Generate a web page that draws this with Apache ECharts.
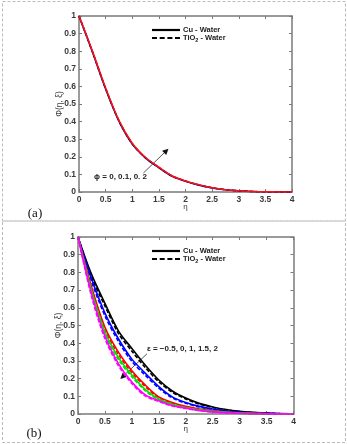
<!DOCTYPE html>
<html><head><meta charset="utf-8">
<script src="https://cdn.jsdelivr.net/npm/echarts@6/dist/echarts.min.js"></script>
<style>html,body{margin:0;padding:0;background:#fff}#c{width:347px;height:444px}</style>
</head><body><div id="c"></div>
<script>
// shared eta grid
const eta = [0,0.25,0.5,0.75,1,1.25,1.5,1.75,2,2.25,2.5,2.75,3,3.25,3.5,3.75,4];
const xTicks = ['0','0.5','1','1.5','2','2.5','3','3.5','4'];
const yTicks = ['0','0.1','0.2','0.3','0.4','0.5','0.6','0.7','0.8','0.9','1'];

// panel (a): phi = 0, 0.1, 0.2 (curves nearly coincide)
const aBlue  = [1,0.797,0.585,0.402,0.272,0.193,0.138,0.089,0.061,0.039,0.023,0.013,0.007,0.003,0.001,0.0003,0];
const aBlack = [1,0.799,0.588,0.404,0.274,0.194,0.139,0.090,0.062,0.040,0.024,0.013,0.007,0.003,0.001,0.0003,0];
const aRed   = [1,0.802,0.591,0.407,0.277,0.196,0.141,0.091,0.063,0.041,0.024,0.013,0.007,0.003,0.001,0.0003,0];

// panel (b): epsilon = -0.5, 0, 1, 1.5, 2 ; Cu-Water (solid)
const bCuBlack   = [1,0.79,0.625,0.47,0.37,0.275,0.192,0.13,0.09,0.06,0.04,0.025,0.015,0.009,0.005,0.002,0.001];
const bCuBlue    = [1,0.765,0.57,0.425,0.31,0.23,0.155,0.097,0.065,0.043,0.028,0.017,0.01,0.006,0.003,0.0015,0.0005];
const bCuRed     = [1,0.72,0.49,0.35,0.245,0.163,0.097,0.065,0.043,0.028,0.018,0.011,0.006,0.0035,0.002,0.001,0.0005];
const bCuGreen   = [1,0.70,0.465,0.32,0.22,0.138,0.085,0.055,0.037,0.024,0.015,0.009,0.005,0.003,0.0015,0.0008,0.0003];
const bCuMagenta = [1,0.68,0.44,0.285,0.18,0.108,0.075,0.048,0.033,0.02,0.012,0.007,0.004,0.002,0.001,0.0005,0];
// TiO2-Water (dashed)
const bTiBlack   = [1,0.775,0.61,0.455,0.355,0.262,0.182,0.123,0.085,0.056,0.037,0.023,0.014,0.008,0.0045,0.002,0.001];
const bTiBlue    = [1,0.75,0.555,0.41,0.297,0.219,0.146,0.091,0.061,0.04,0.026,0.016,0.009,0.0055,0.003,0.0014,0.0005];
const bTiRed     = [1,0.705,0.475,0.337,0.234,0.155,0.091,0.061,0.04,0.026,0.017,0.01,0.0055,0.003,0.0018,0.001,0.0004];
const bTiGreen   = [1,0.685,0.45,0.307,0.21,0.131,0.08,0.052,0.035,0.022,0.014,0.0085,0.0045,0.0027,0.0014,0.0007,0.0003];
const bTiMagenta = [1,0.665,0.425,0.273,0.172,0.102,0.071,0.045,0.031,0.019,0.011,0.0065,0.0035,0.0018,0.001,0.0004,0];

const FONT = '"Liberation Sans", Arial, sans-serif';
const AX = '#7a7a7a';
const LBL = '#3a3a3a';

function pairs(v){ return eta.map((e,i)=>[e, v[i]]); }

function xAxes(gi){
  return [{
    type:'value', gridIndex:gi, min:0, max:4, interval:0.5, position:'bottom',
    name:'η', nameLocation:'middle', nameGap:11, nameMoveOverlap:false,
    nameTextStyle:{fontSize:8, color:LBL, fontFamily:FONT},
    axisLine:{show:true, onZero:false, lineStyle:{color:AX, width:1.5}},
    axisTick:{show:true, inside:true, length:3, lineStyle:{color:AX}},
    axisLabel:{fontSize:8.5, fontWeight:'bold', color:LBL, fontFamily:FONT, margin:3,
      formatter:(v)=>xTicks[Math.round(v/0.5)]},
    splitLine:{show:false}
  },{
    type:'value', gridIndex:gi, min:0, max:4, interval:0.5, position:'top',
    axisLine:{show:true, onZero:false, lineStyle:{color:AX, width:1.5}},
    axisTick:{show:true, inside:true, length:3, lineStyle:{color:AX}},
    axisLabel:{show:false}, splitLine:{show:false}
  }];
}
function yAxes(gi){
  return [{
    type:'value', gridIndex:gi, min:0, max:1, interval:0.1, position:'left',
    name:'Φ(η, ξ)', nameLocation:'middle', nameGap:15, nameRotate:90, nameMoveOverlap:false,
    nameTextStyle:{fontSize:8.5, color:LBL, fontFamily:FONT},
    axisLine:{show:true, onZero:false, lineStyle:{color:AX, width:1.5}},
    axisTick:{show:true, inside:true, length:3, lineStyle:{color:AX}},
    axisLabel:{fontSize:8.5, fontWeight:'bold', color:LBL, fontFamily:FONT, margin:3,
      formatter:(v)=>yTicks[Math.round(v*10)]},
    splitLine:{show:false}
  },{
    type:'value', gridIndex:gi, min:0, max:1, interval:0.1, position:'right',
    axisLine:{show:true, onZero:false, lineStyle:{color:AX, width:1.5}},
    axisTick:{show:true, inside:true, length:3, lineStyle:{color:AX}},
    axisLabel:{show:false}, splitLine:{show:false}
  }];
}

function line(name, data, color, dashed, xi, yi, z){
  return {type:'line', name:name, data:pairs(data), xAxisIndex:xi, yAxisIndex:yi,
    showSymbol:false, symbol:'none', smooth:0.3, z:z||2,
    lineStyle:{color:color, width:1.6, type: dashed?[4,2]:'solid'}, itemStyle:{color:color},
    emphasis:{disabled:true}, silent:true};
}

const CU = 'Cu - Water', TI = 'TiO2 - Water';
const SOLID_ICON = 'path://M0,0h28v2.2h-28z';
const DASH_ICON = 'path://M0,0h5v2.2h-5z M7.7,0h5v2.2h-5z M15.4,0h5v2.2h-5z M23,0h5v2.2h-5z';
function legendSeries(xi, yi){
  return [
    {type:'line', name:CU, data:[], xAxisIndex:xi, yAxisIndex:yi, symbol:'none',
      lineStyle:{color:'#000', width:2}, itemStyle:{color:'#000'}},
    {type:'line', name:TI, data:[], xAxisIndex:xi, yAxisIndex:yi, symbol:'none',
      lineStyle:{color:'#000', width:2, type:[4,2]}, itemStyle:{color:'#000'}}
  ];
}
function legend(top){
  return {data:[{name:CU, icon:SOLID_ICON}, {name:TI, icon:DASH_ICON}],
    orient:'vertical', left:147, top:top, itemWidth:28, itemHeight:2.2, itemGap:0,
    selectedMode:false, itemStyle:{color:'#000', borderWidth:0},
    textStyle:{fontSize:7.5, fontWeight:'bold', color:'#222', fontFamily:FONT, padding:[0,0,0,-2],
      rich:{s:{fontSize:5.5, fontWeight:'bold', color:'#222', verticalAlign:'bottom', padding:[4,0,0,0], fontFamily:FONT}}},
    formatter:(n)=> n===TI ? 'TiO{s|2} - Water' : n};
}

const chart = echarts.init(document.getElementById('c'), null, {renderer:'canvas'});
const option = {
  animation:false,
  backgroundColor:'#fff',
  grid:[
    {left:79, top:16, width:213, height:176},
    {left:78, top:237, width:215.5, height:177}
  ],
  xAxis:[...xAxes(0), ...xAxes(1)],
  yAxis:[...yAxes(0), ...yAxes(1)],
  legend:[legend(21), legend(242)],
  series:[
    ...legendSeries(0,0),
    line(CU, aBlue, '#1010e0', false, 0, 0, 2),
    line(TI, aBlack, '#000', true, 0, 0, 3),
    line(CU, aRed, '#ff1010', false, 0, 0, 4),
    ...legendSeries(2,2),
    line(CU, bCuBlack, '#000', false, 2, 2, 2),
    line(TI, bTiBlack, '#000', true, 2, 2, 2),
    line(CU, bCuBlue, '#0000ff', false, 2, 2, 2),
    line(TI, bTiBlue, '#0000ff', true, 2, 2, 2),
    line(CU, bCuRed, '#ff0000', false, 2, 2, 2),
    line(TI, bTiRed, '#ff0000', true, 2, 2, 2),
    line(CU, bCuGreen, '#00e000', false, 2, 2, 2),
    line(TI, bTiGreen, '#00e000', true, 2, 2, 2),
    line(CU, bCuMagenta, '#ff00ff', false, 2, 2, 2),
    line(TI, bTiMagenta, '#ff00ff', true, 2, 2, 2)
  ]
};
chart.setOption(option);

// annotations positioned through the axes
const pa = (x,y)=>chart.convertToPixel({xAxisIndex:0, yAxisIndex:0},[x,y]);
const pb = (x,y)=>chart.convertToPixel({xAxisIndex:2, yAxisIndex:2},[x,y]);
function arrow(p0, p1){
  const dx=p1[0]-p0[0], dy=p1[1]-p0[1], L=Math.hypot(dx,dy), ux=dx/L, uy=dy/L;
  const hl=6, hw=3;
  const bx=p1[0]-ux*hl, by=p1[1]-uy*hl;
  return [
    {type:'line', shape:{x1:p0[0], y1:p0[1], x2:bx, y2:by}, style:{stroke:'#555', lineWidth:1}, silent:true},
    {type:'polygon', shape:{points:[[p1[0],p1[1]],[bx-uy*hw,by+ux*hw],[bx+uy*hw,by-ux*hw]]}, style:{fill:'#111'}, silent:true}
  ];
}
const a0=pa(1.21,0.108), a1=pa(1.68,0.246);
const la=pa(0.78,0.089);
const b0=pb(1.28,0.34), b1=pb(0.785,0.198);
const lb=pb(1.28,0.368);
chart.setOption({graphic:[
  {type:'rect', shape:{x:2.5, y:1.5, width:343, height:219.5}, style:{fill:null, stroke:'#bbb', lineWidth:1, lineDash:[3,2]}, silent:true},
  {type:'rect', shape:{x:2.5, y:221, width:343, height:221.5}, style:{fill:null, stroke:'#bbb', lineWidth:1, lineDash:[3,2]}, silent:true},
  {type:'text', x:35, y:214, style:{text:'(a)', font:'13px "Liberation Serif", "DejaVu Serif", serif', fill:'#111', align:'center', verticalAlign:'middle'}, silent:true},
  {type:'text', x:34, y:434, style:{text:'(b)', font:'13px "Liberation Serif", "DejaVu Serif", serif', fill:'#111', align:'center', verticalAlign:'middle'}, silent:true},
  ...arrow(a0,a1),
  ...arrow(b0,b1),
  {type:'text', x:la[0], y:la[1], style:{text:'ϕ = 0, 0.1, 0. 2', font:'bold 8px '+FONT, fill:'#222', align:'center', verticalAlign:'middle'}, silent:true, z:10},
  {type:'text', x:lb[0], y:lb[1], style:{text:'ε = −0.5, 0, 1, 1.5, 2', font:'bold 8px '+FONT, fill:'#222', align:'left', verticalAlign:'middle'}, silent:true, z:10}
]});
</script>
</body></html>
